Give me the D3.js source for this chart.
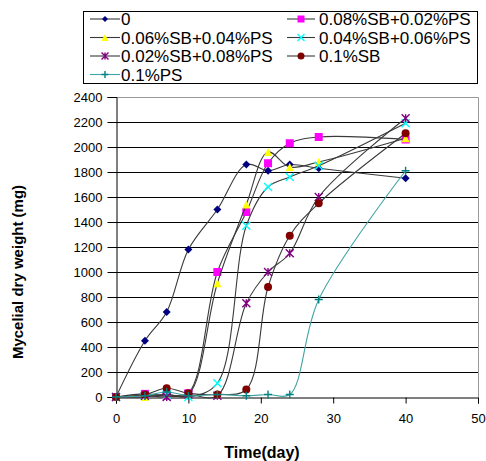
<!DOCTYPE html>
<html>
<head>
<meta charset="utf-8">
<script src="https://cdn.jsdelivr.net/npm/d3@7"></script>
<style>
  html, body { margin: 0; padding: 0; background: #fff; }
  svg { display: block; }
  text { font-family: "Liberation Sans", Arial, sans-serif; }
</style>
</head>
<body>
<svg id="chart" width="486" height="461"></svg>
<script>
// Sampling days
const days = [0, 4, 7, 10, 14, 18, 21, 24, 28, 40];

// Mycelial dry weight (mg) for each treatment
const s0        = [0, 450, 680, 1180, 1500, 1860, 1810, 1860, 1830, 1750];
const sb08ps02  = [0, 25, 10, 30, 1000, 1480, 1870, 2030, 2080, 2060];
const sb06ps04  = [0, 0, 20, 20, 910, 1540, 1960, 1840, 1880, 2070];
const sb04ps06  = [0, 10, 20, 0, 110, 1370, 1680, 1760, 1850, 2190];
const sb02ps08  = [0, 10, 0, 20, 10, 750, 1000, 1150, 1600, 2230];
const sb10      = [0, 20, 70, 30, 20, 60, 880, 1290, 1550, 2110];
const ps10      = [0, 10, 40, 10, 20, 10, 20, 20, 780, 1810];

const seriesNames = ["0", "0.08%SB+0.02%PS", "0.06%SB+0.04%PS", "0.04%SB+0.06%PS",
                     "0.02%SB+0.08%PS", "0.1%SB", "0.1%PS"];
const seriesValues = [s0, sb08ps02, sb06ps04, sb04ps06, sb02ps08, sb10, ps10];

const xTicks = [0, 10, 20, 30, 40, 50];
const yTicks = d3.range(0, 2401, 200);

const styles = [
  { shape: "diamond",  color: "#000080", line: "#3a3a3a" },
  { shape: "square",   color: "#ff00ff", line: "#3a3a3a" },
  { shape: "triangle", color: "#ffff00", line: "#3a3a3a" },
  { shape: "cross",    color: "#00ffff", line: "#3a3a3a" },
  { shape: "star",     color: "#800080", line: "#3a3a3a" },
  { shape: "circle",   color: "#800000", line: "#3a3a3a" },
  { shape: "plus",     color: "#008080", line: "#40a4a4" }
];

const svg = d3.select("#chart");
const x = d3.scaleLinear().domain([0, 50]).range([116, 478]);
const y = d3.scaleLinear().domain([0, 2400]).range([397, 97]);

// Gridlines
svg.append("g").selectAll("line")
  .data(yTicks.filter(v => v > 0 && v < 2400))
  .join("line")
  .attr("x1", x(0)).attr("x2", x(50))
  .attr("y1", d => y(d) + 0.5).attr("y2", d => y(d) + 0.5)
  .attr("stroke", "#000").attr("stroke-width", 1);

// Plot frame (top / right)
svg.append("path")
  .attr("d", `M${x(0)},${y(2400) + 0.5}H${x(50) + 0.5}V${y(0)}`)
  .attr("fill", "none").attr("stroke", "#9a9a9a").attr("stroke-width", 1);

// Axes
const yAxis = svg.append("g")
  .attr("transform", `translate(${x(0) + 0.5},0)`)
  .call(d3.axisLeft(y).tickValues(yTicks).tickSize(9).tickPadding(5).tickFormat(d3.format("d")));
const xAxis = svg.append("g")
  .attr("transform", `translate(0,${y(0) + 0.5})`)
  .call(d3.axisBottom(x).tickValues(xTicks).tickSize(6).tickPadding(10).tickFormat(d3.format("d")));
[yAxis, xAxis].forEach(a => {
  a.select(".domain").attr("stroke", "#000");
  a.selectAll(".tick line").attr("stroke", "#000");
  a.selectAll("text").attr("font-size", 13).attr("fill", "#000")
    .attr("font-family", "Liberation Sans, Arial, sans-serif");
});

// Marker drawing
function marker(g, shape, color, cx, cy, s) {
  const h = s / 2;
  if (shape === "diamond") {
    g.append("path").attr("d", `M${cx},${cy - h}L${cx + h},${cy}L${cx},${cy + h}L${cx - h},${cy}Z`).attr("fill", color);
  } else if (shape === "square") {
    g.append("rect").attr("x", cx - h).attr("y", cy - h).attr("width", s).attr("height", s).attr("fill", color);
  } else if (shape === "triangle") {
    g.append("path").attr("d", `M${cx},${cy - h}L${cx + h},${cy + h}L${cx - h},${cy + h}Z`).attr("fill", color);
  } else if (shape === "circle") {
    g.append("circle").attr("cx", cx).attr("cy", cy).attr("r", h).attr("fill", color);
  } else {
    let d = "";
    if (shape === "cross" || shape === "star") d += `M${cx - h},${cy - h}L${cx + h},${cy + h}M${cx - h},${cy + h}L${cx + h},${cy - h}`;
    if (shape === "star") d += `M${cx},${cy - h}V${cy + h}`;
    if (shape === "plus") d += `M${cx - h},${cy}H${cx + h}M${cx},${cy - h}V${cy + h}`;
    g.append("path").attr("d", d).attr("stroke", color).attr("stroke-width", 1.4).attr("fill", "none");
  }
}

// Series: smoothed lines and markers
const line = d3.line().x(d => x(d[0])).y(d => y(d[1])).curve(d3.curveCatmullRom.alpha(0.5));
seriesValues.forEach((vals, i) => {
  const st = styles[i];
  const g = svg.append("g");
  const pts = days.map((d, j) => [d, vals[j]]);
  g.append("path").attr("d", line(pts)).attr("fill", "none")
    .attr("stroke", st.line).attr("stroke-width", 1.1);
  pts.forEach(p => marker(g, st.shape, st.color, x(p[0]), y(p[1]), 8));
});

// Legend
const lg = svg.append("g");
lg.append("rect").attr("x", 83.5).attr("y", 11.5).attr("width", 394).attr("height", 72)
  .attr("fill", "#fff").attr("stroke", "#000").attr("stroke-width", 1);
const cols = [{ l0: 90, l1: 120, m: 105, t: 121 }, { l0: 287, l1: 315, m: 301, t: 319 }];
const rowY = [19, 37.5, 56, 74.5];
seriesNames.forEach((name, i) => {
  const c = cols[i % 2], ry = rowY[Math.floor(i / 2)];
  const st = styles[i];
  lg.append("line").attr("x1", c.l0).attr("x2", c.l1).attr("y1", ry).attr("y2", ry)
    .attr("stroke", st.line).attr("stroke-width", 1.1);
  marker(lg, st.shape, st.color, c.m, ry, st.shape === "diamond" ? 6 : 7);
  lg.append("text").attr("x", c.t).attr("y", ry).attr("dy", "0.36em")
    .attr("font-size", 17).attr("fill", "#000").text(name);
});

// Axis titles
svg.append("text").attr("x", 262).attr("y", 452).attr("dy", "0.36em")
  .attr("text-anchor", "middle").attr("font-size", 16).attr("font-weight", "bold").text("Time(day)");
svg.append("text").attr("transform", "translate(18,272) rotate(-90)").attr("dy", "0.36em")
  .attr("text-anchor", "middle").attr("font-size", 15).attr("font-weight", "bold").text("Mycelial dry weight (mg)");
</script>
</body>
</html>
